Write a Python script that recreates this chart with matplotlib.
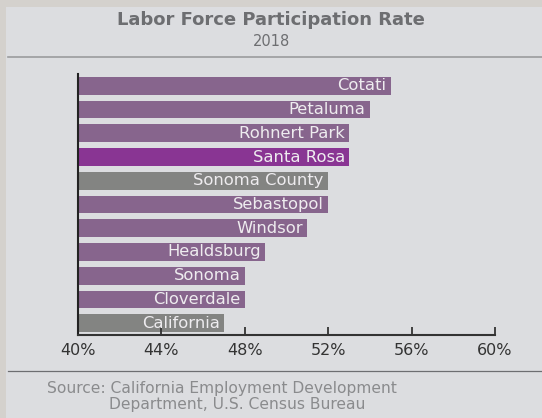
import matplotlib.pyplot as plt
from matplotlib.patches import Rectangle
from matplotlib.lines import Line2D

# data
places = ["Cotati", "Petaluma", "Rohnert Park", "Santa Rosa", "Sonoma County",
          "Sebastopol", "Windsor", "Healdsburg", "Sonoma", "Cloverdale", "California"]
rates = [55, 54, 53, 53, 52, 52, 51, 49, 48, 48, 47]
bar_colors = ["#87658d", "#87658d", "#87658d", "#893593", "#838482",
              "#87658d", "#87658d", "#87658d", "#87658d", "#87658d", "#838482"]
ticks = [40, 44, 48, 52, 56, 60]

plt.rcParams['font.family'] = ['DejaVu Sans']

W, H = 542, 418
fig = plt.figure(figsize=(W / 100, H / 100), dpi=100)
fig.patch.set_facecolor("#d4d1cd")
fig.patches.append(Rectangle((6 / W, 0), 1, 1 - 7 / H, transform=fig.transFigure,
                             facecolor="#dcdde0", edgecolor="none", zorder=-5))

# title block
fig.text(271 / W, 1 - 20 / H, "Labor Force Participation Rate", ha="center", va="center",
         fontsize=13, fontweight="bold", color="#6d6e71")
fig.text(271 / W, 1 - 42 / H, "2018", ha="center", va="center", fontsize=10.5, color="#6d6e71")
fig.lines.append(Line2D([8 / W, 1], [1 - 57 / H] * 2, transform=fig.transFigure,
                        color="#9a9b9d", lw=1.2))
fig.lines.append(Line2D([8 / W, 1], [1 - 371 / H] * 2, transform=fig.transFigure,
                        color="#6d6e71", lw=0.9))

# source
fig.text(47 / W, 1 - 388 / H, "Source: California Employment Development",
         ha="left", va="center", fontsize=11.2, color="#8a8b8d")
fig.text(109 / W, 1 - 405 / H, "Department, U.S. Census Bureau",
         ha="left", va="center", fontsize=11.2, color="#8a8b8d")

ax = fig.add_axes([77.7 / W, 1 - 335 / H, (495 - 77.7) / W, (335 - 74) / H])
ax.set_facecolor("none")
y = list(range(len(places)))
ax.barh(y, [r - 40 for r in rates], left=40, height=0.75, color=bar_colors)
for yi, name, r in zip(y, places, rates):
    ax.text(r - 0.2, yi, name, ha="right", va="center", fontsize=11.8, color="#eeecef")

ax.set_xlim(40, 60)
ax.set_ylim(10.5, -0.5)
ax.set_xticks(ticks)
ax.set_xticklabels([f"{t}%" for t in ticks])
ax.set_yticks([])
ax.tick_params(axis="x", direction="in", length=6, width=1.3, color="#333333",
               labelsize=11.5, labelcolor="#333333", pad=6)
for s in ["top", "right"]:
    ax.spines[s].set_visible(False)
ax.spines["left"].set_color("#222222")
ax.spines["bottom"].set_color("#333333")
ax.spines["left"].set_linewidth(1.5)
ax.spines["bottom"].set_linewidth(1.5)

fig.savefig("out.png", dpi=100)
